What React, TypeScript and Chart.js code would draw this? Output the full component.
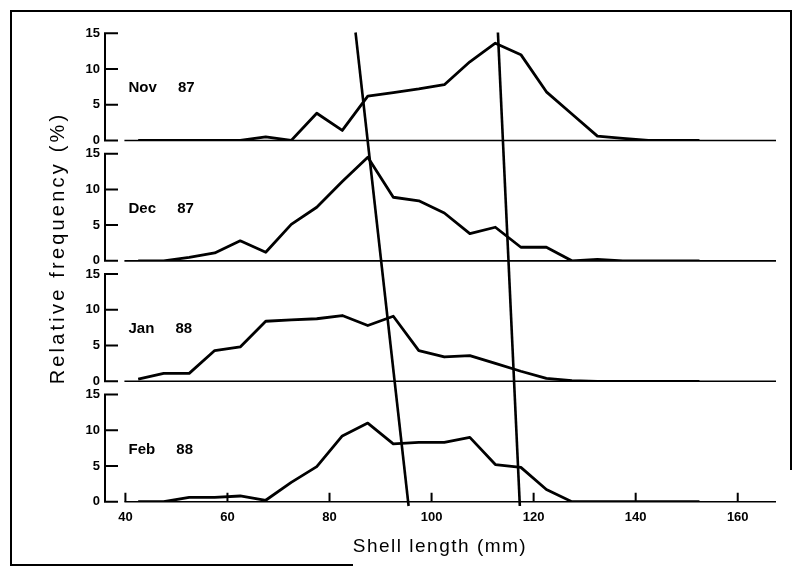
import React, { useEffect, useRef } from 'react';
import { Chart, registerables } from 'chart.js';

Chart.register(...registerables);

// ---- data ----
const shellLength = [42.5, 47.5, 52.5, 57.5, 62.5, 67.5, 72.5, 77.5, 82.5, 87.5, 92.5, 97.5, 102.5, 107.5, 112.5, 117.5, 122.5, 127.5, 132.5, 137.5, 142.5, 147.5, 152.5];
const nov87 = [0, 0, 0, 0, 0, 0.5, 0, 3.8, 1.4, 6.2, 6.7, 7.2, 7.8, 11.0, 13.6, 12.0, 6.8, 3.7, 0.6, 0.3, 0, 0, 0];
const dec87 = [0, 0, 0.5, 1.1, 2.8, 1.2, 5.1, 7.5, 11.1, 14.5, 8.9, 8.4, 6.7, 3.8, 4.7, 1.9, 1.9, 0, 0.2, 0, 0, 0, 0];
const jan88 = [0.3, 1.1, 1.1, 4.3, 4.8, 8.4, 8.6, 8.75, 9.2, 7.8, 9.1, 4.3, 3.4, 3.6, 2.5, 1.4, 0.4, 0.1, 0, 0, 0, 0, 0];
const feb88 = [0, 0, 0.6, 0.6, 0.8, 0.2, 2.7, 4.9, 9.2, 11.0, 8.1, 8.3, 8.3, 9.0, 5.2, 4.8, 1.7, 0, 0, 0, 0, 0, 0];
const panelLabels = ['Nov 87', 'Dec 87', 'Jan 88', 'Feb 88'];
const yTicks = [0, 5, 10, 15];
const xTicks = [40, 60, 80, 100, 120, 140, 160];
// modal progression lines: [x at top (Nov), x at bottom (Feb)]
const progressionLineX = [[85.1, 95.5], [113.0, 117.3]];
const progressionLineY = [15.1, -0.6]; // top value on Nov axis, bottom value on Feb axis
const xTitle = 'Shell length (mm)';
const yTitle = 'Relative frequency (%)';

const panelIds = ['yNov', 'yDec', 'yJan', 'yFeb'];
const panelSeries = [nov87, dec87, jan88, feb88];

const FONT = '"Liberation Sans", Arial, sans-serif';

const decor = {
  id: 'decor',
  afterDraw(chart: any) {
    const ctx = chart.ctx as CanvasRenderingContext2D;
    const xs = chart.scales.x;
    ctx.save();
    ctx.strokeStyle = '#000';
    ctx.fillStyle = '#000';
    ctx.lineCap = 'butt';

    panelIds.forEach((id, i) => {
      const ys = chart.scales[id];
      const y0 = ys.getPixelForValue(0);
      // baseline
      ctx.lineWidth = 1.6;
      ctx.beginPath();
      ctx.moveTo(xs.getPixelForValue(40) - 1, y0);
      ctx.lineTo(xs.right, y0);
      ctx.stroke();
      // axis bracket
      const left = xs.left;
      ctx.lineWidth = 2;
      ctx.beginPath();
      ctx.moveTo(left, ys.getPixelForValue(15));
      ctx.lineTo(left, y0);
      yTicks.forEach((t) => {
        const py = ys.getPixelForValue(t);
        ctx.moveTo(left - 1, py);
        ctx.lineTo(left + 13, py);
      });
      ctx.stroke();
      // panel label
      ctx.font = 'bold 15px ' + FONT;
      (ctx as any).wordSpacing = '17px';
      ctx.textAlign = 'left';
      ctx.textBaseline = 'middle';
      ctx.fillText(panelLabels[i], xs.getPixelForValue(40.6), ys.getPixelForValue(7.3));
      (ctx as any).wordSpacing = '0px';
    });

    // x ticks (inward)
    const yF = chart.scales.yFeb.getPixelForValue(0);
    ctx.lineWidth = 2;
    ctx.beginPath();
    xTicks.forEach((t) => {
      const px = xs.getPixelForValue(t);
      ctx.moveTo(px, yF);
      ctx.lineTo(px, yF - 9);
    });
    ctx.stroke();

    // progression lines
    ctx.lineWidth = 2.6;
    progressionLineX.forEach(([xt, xb]) => {
      ctx.beginPath();
      ctx.moveTo(xs.getPixelForValue(xt), chart.scales.yNov.getPixelForValue(progressionLineY[0]));
      ctx.lineTo(xs.getPixelForValue(xb), chart.scales.yFeb.getPixelForValue(progressionLineY[1]));
      ctx.stroke();
    });

    // axis titles
    ctx.font = '19px ' + FONT;
    (ctx as any).letterSpacing = '1.5px';
    ctx.textAlign = 'center';
    ctx.textBaseline = 'middle';
    ctx.fillText(xTitle, 440, 547);
    ctx.save();
    ctx.translate(58, 248);
    ctx.rotate(-Math.PI / 2);
    ctx.font = '20px ' + FONT;
    (ctx as any).letterSpacing = '3.2px';
    ctx.fillText(yTitle, 0, 0);
    ctx.restore();
    (ctx as any).letterSpacing = '0px';

    // frame
    ctx.lineWidth = 2;
    ctx.beginPath();
    ctx.moveTo(353, 565);
    ctx.lineTo(11, 565);
    ctx.lineTo(11, 11);
    ctx.lineTo(791, 11);
    ctx.lineTo(791, 470);
    ctx.stroke();

    ctx.restore();
  },
};

export default function App() {
  const ref = useRef<HTMLCanvasElement | null>(null);
  useEffect(() => {
    if (!ref.current) return;
    const yAxis = () => ({
      type: 'linear',
      position: 'left',
      stack: 'panels',
      stackWeight: 1,
      min: 0,
      max: 16.85,
      grid: { display: false, drawTicks: false },
      border: { display: false },
      afterBuildTicks: (s: any) => {
        s.ticks = yTicks.map((v) => ({ value: v }));
      },
      afterFit: (s: any) => {
        s.width = 45;
      },
      ticks: {
        padding: 5,
        color: '#000',
        font: { family: FONT, size: 13, weight: 'bold' },
      },
    });
    const scales: any = {
      x: {
        type: 'linear',
        min: 36,
        max: 167.5,
        grid: { display: false, drawTicks: false },
        border: { display: false },
        afterBuildTicks: (s: any) => {
          s.ticks = xTicks.map((v) => ({ value: v }));
        },
        afterFit: (s: any) => {
          s.height = 25;
        },
        ticks: {
          padding: 8,
          color: '#000',
          autoSkip: false,
          maxRotation: 0,
          font: { family: FONT, size: 13, weight: 'bold' },
        },
      },
    };
    // later-defined left axes are placed on top of the stack
    ['yFeb', 'yJan', 'yDec', 'yNov'].forEach((id) => {
      scales[id] = yAxis();
    });
    const chart = new Chart(ref.current, {
      type: 'line',
      data: {
        datasets: panelSeries.map((vals, i) => ({
          label: panelLabels[i],
          yAxisID: panelIds[i],
          data: shellLength.map((x, j) => ({ x, y: vals[j] })),
          borderColor: '#000',
          borderWidth: 2.8,
          pointRadius: 0,
          tension: 0,
          borderJoinStyle: 'round',
          fill: false,
        })),
      },
      options: {
        animation: false,
        responsive: true,
        maintainAspectRatio: false,
        layout: { padding: { left: 60, right: 26, top: 20, bottom: 40.3 } },
        plugins: {
          legend: { display: false },
          tooltip: { enabled: false },
        },
        scales,
      } as any,
      plugins: [decor],
    } as any);
    return () => chart.destroy();
  }, []);
  return (
    <div style={{ position: 'absolute', left: 0, top: 0, width: 802, height: 567, background: '#fff' }}>
      <canvas ref={ref} />
    </div>
  );
}
